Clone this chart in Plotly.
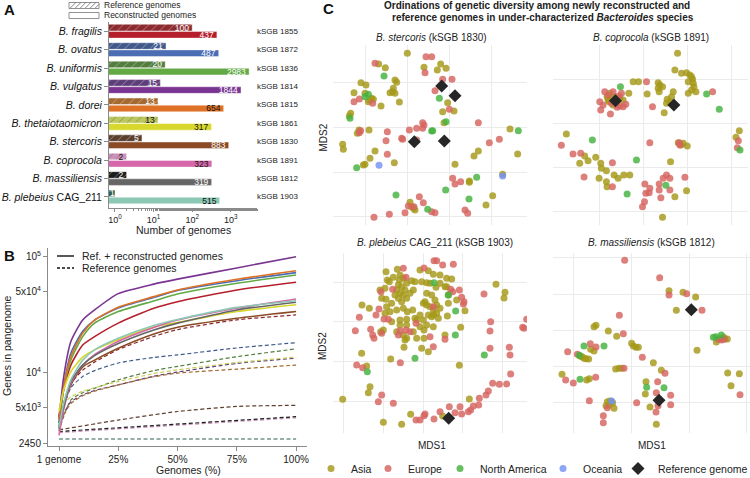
import plotly.graph_objects as go

W, H = 750, 478
FONT = "Liberation Sans, Arial, sans-serif"

def px(x):
    return x / W

def py(y):
    return 1 - y / H

def dom_x(a, b):
    return [a / W, b / W]

def dom_y(top, bottom):
    return [1 - bottom / H, 1 - top / H]

# ---------------- Panel A data ----------------
species = ["<i>B. fragilis</i>", "<i>B. ovatus</i>", "<i>B. uniformis</i>", "<i>B. vulgatus</i>",
           "<i>B. dorei</i>", "<i>B. thetaiotaomicron</i>", "<i>B. stercoris</i>", "<i>B. coprocola</i>",
           "<i>B. massiliensis</i>", "<i>B. plebeius</i> CAG_211"]
ksgb = ["kSGB 1855", "kSGB 1872", "kSGB 1836", "kSGB 1814", "kSGB 1815",
        "kSGB 1861", "kSGB 1830", "kSGB 1891", "kSGB 1812", "kSGB 1903"]
ref_counts = [100, 21, 20, 15, 13, 13, 5, 2, 2, 1]
recon_counts = [437, 487, 2983, 1844, 654, 317, 883, 323, 319, 515]

recon_colors = ["#B51F2B", "#4A6DB3", "#63AA45", "#7A3592", "#DE7125",
                "#D8D82C", "#8A4A24", "#D567AA", "#666666", "#8DC8B4"]
ref_colors = ["#8C2A2E", "#41598A", "#537D3F", "#5E3E79", "#A3692F",
              "#BBC65E", "#5C3F2F", "#CB93BA", "#1C1C1C", "#2F6152"]
ref_text_colors = ["white", "white", "white", "white", "white", "#111", "white", "#111", "white", "white"]
recon_text_colors = ["white", "white", "white", "white", "#111", "#111", "white", "#111", "white", "#111"]

# ---------------- Panel B data ----------------
pct = [0, 2, 5, 10, 15, 25, 40, 50, 75, 100]
total_genes = {
    "fragilis":     [4170, 7100, 11600, 17300, 20400, 26700, 35900, 40900, 51600, 60100],
    "ovatus":       [3700, 7700, 14700, 22700, 28400, 36000, 44500, 51000, 62000, 72800],
    "uniformis":    [3300, 7200, 12800, 20400, 26700, 33600, 41500, 47700, 59000, 69500],
    "vulgatus":     [4000, 9240, 18500, 28400, 34700, 48000, 58000, 64000, 80000, 100000],
    "dorei":        [3900, 7570, 13700, 21900, 28400, 36600, 45200, 51600, 63800, 75700],
    "theta":        [4620, 7100, 10200, 13600, 15700, 19200, 24800, 27000, 33600, 38500],
    "stercoris":    [3420, 5100, 7800, 11200, 12800, 16200, 21500, 24600, 29400, 33600],
    "coprocola":    [2870, 4800, 8100, 11600, 14300, 18600, 24500, 28400, 35900, 43100],
    "massiliensis": [3660, 5100, 8400, 11600, 14000, 17800, 23300, 26700, 34700, 40500],
    "plebeius":     [3420, 5450, 8640, 12800, 15700, 19800, 25500, 28700, 36500, 41700],
}
ref_pct = {
    "fragilis": pct, "ovatus": pct, "uniformis": pct, "vulgatus": pct, "dorei": pct, "theta": pct,
    "stercoris": [0, 25, 50, 75, 100], "coprocola": [0, 100], "massiliensis": [0, 100], "plebeius": [0, 100],
}
ref_genes = {
    "fragilis":     [3680, 5500, 8000, 10500, 12300, 15800, 20500, 23500, 28500, 31400],
    "ovatus":       [3150, 5000, 7400, 9250, 10400, 12100, 13500, 14200, 16300, 18100],
    "uniformis":    [3100, 4200, 5800, 6700, 7300, 8650, 10400, 11300, 13700, 16000],
    "vulgatus":     [3300, 4400, 5600, 6400, 7000, 7830, 9300, 10100, 12000, 13300],
    "dorei":        [3400, 4300, 5400, 6300, 6900, 7830, 9200, 9880, 10700, 11600],
    "theta":        [4780, 5400, 6170, 6900, 7400, 8360, 9800, 10550, 12200, 13600],
    "stercoris":    [3200, 3890, 4610, 5100, 5210],
    "coprocola":    [3030, 4070],
    "massiliensis": [3100, 4160],
    "plebeius":     [2670, 2670],
}
curve_keys = ["fragilis", "ovatus", "uniformis", "vulgatus", "dorei", "theta",
              "stercoris", "coprocola", "massiliensis", "plebeius"]

# ---------------- Panel C data (MDS1, MDS2 in ordination units) ----------------
st_asia = [(322,10),(372,52),(422,42),(438,55),(412,60),(236,42),(256,53),(285,90),(290,97),(280,115),
           (278,125),(285,130),(270,128),(298,156),(183,98),(198,105),(162,128),(195,130),(215,145),(220,148),
           (210,150),(205,155),(243,168),(152,190),(148,198),(177,240),(172,250),(207,240),(128,283),(130,298),
           (225,303),(210,325),(195,343),(190,345),(283,338),(428,185),(432,218),(443,158),(462,183),(630,237),
           (535,303),(522,318),(653,312),(465,343),(508,393),(508,397),(608,373),(578,437),(558,465),(330,457),
           (335,470),(340,475),(345,480)]
st_europe = [(378,20),(395,20),(375,68),(428,88),(456,88),(405,122),(448,178),(225,40),(162,155),(178,147),
             (218,160),(350,235),(328,240),(368,218),(368,235),(372,225),(262,245),(258,272),(305,265),(308,268),
             (262,313),(182,242),(178,248),(350,270),(535,218),(568,278),(598,268),(458,385),(465,402),(482,395),
             (358,440),(370,458),(325,468),(342,470),(395,485),(405,488),(315,488),(268,493),(222,502),(495,480),
             (503,490)]
st_namerica = [(252,78),(205,133),(195,140),(150,205),(418,145),(438,215),(398,242),(395,243),(655,242),
               (170,353),(437,420),(530,382),(507,447),(288,435),(383,478)]
st_oceania = [(237,346),(608,378)]
st_reference = [(425,108),(465,137),(343,275),(433,273)]

co_asia = [(473,10),(465,60),(485,70),(500,68),(510,75),(515,80),(518,88),(505,95),(520,100),(522,110),
           (515,120),(505,130),(528,125),(340,95),(356,95),(415,98),(420,105),(415,115),(418,125),(428,110),
           (382,132),(460,125),(455,140),(442,148),(450,155),(440,160),(433,188),(327,130),(270,130),(265,150),
           (285,140),(290,160),(295,150),(310,150),(262,140),(275,145),(300,145),(280,165),(268,155),
           (140,252),(180,340),(195,318),(205,332),(228,322),(243,340),(245,355),(260,362),(238,385),(283,375),
           (295,385),(312,375),(330,375),(260,395),(262,410),(475,278),(483,285),(490,280),(502,288),(452,335),
           (465,440),(500,422),(428,502),(658,242),(648,262)]
co_europe = [(380,95),(578,125),(240,155),(243,180),(272,192),(318,163),(300,168),(280,125),(265,135),(275,160),
             (298,138),(255,125),(305,130),(310,170),(250,165),(292,172),(398,170),(390,278),(125,286),(160,312),
             (183,310),(278,338),(193,381),(278,410),(478,278),(480,285),(375,402),(390,415),(378,430),(388,428),
             (418,402),(418,420),(430,385),(440,375),(450,385),(423,443),(450,420),(374,455),(368,470),(495,382),
             (655,272),(652,293)]
co_namerica = [(302,110),(560,132),(598,178),(218,270),(350,330),(322,432),(438,406),(660,300)]
co_oceania = []
co_reference = [(287,152),(462,165)]

pl_asia = [(258,95),(292,88),(262,120),(268,125),(255,145),(280,112),(300,105),(310,115),(320,130),(335,122),
           (345,125),(295,135),(305,140),(290,150),(300,160),(310,165),(285,165),(295,175),(305,185),(320,175),
           (330,160),(340,150),(275,190),(260,200),(245,175),(258,178),(270,215),(290,210),(310,205),(300,240),
           (320,238),(345,235),(255,220),(242,275),(250,270),(275,245),(300,255),(320,255),(290,275),(310,285),
           (320,295),(315,300),(340,275),(312,322),(350,295),(372,295),(365,325),(385,335),(400,260),(380,255),
           (360,90),(385,92),(400,103),(420,105),(440,115),(455,117),(365,125),(380,128),(390,130),(420,130),
           (435,140),(408,142),(380,160),(395,165),(375,185),(380,195),(390,200),(400,210),(410,220),(395,230),
           (385,225),(370,190),(360,225),(350,240),(370,240),(400,225),(410,195),(420,205),(405,180),(445,165),
           (445,190),(470,180),(495,212),(442,228),(482,262),(435,285),(415,235),(360,260),(372,270),(186,195),
           (208,205),(185,340),(200,378),(205,458),(210,440),(128,478),(272,357),(250,547),(305,553),(332,523),
           (428,528),(478,376),(508,477),(588,133),(615,157),(612,174),(440,140),(298,120),(240,150),(315,150),
           (338,210),(322,215)]
pl_europe = [(310,85),(402,62),(410,62),(428,75),(460,73),(372,84),(318,112),(243,155),(278,148),(237,207),
             (178,232),(252,237),(265,238),(228,225),(212,268),(218,285),(222,295),(166,272),(300,272),(295,285),
             (245,280),(348,250),(330,275),(318,270),(170,375),(188,383),(245,465),(235,485),(280,490),(301,368),
             (390,290),(400,320),(435,298),(458,155),(452,148),(478,150),(485,172),(492,185),(490,192),(400,200),
             (552,162),(572,245),(570,273),(570,325),(628,322),(630,345),(632,402),(680,238),(668,262),(672,265),
             (578,430),(598,433),(620,432),(565,453),(558,465),(538,475),(536,495),(520,498),(512,510),(505,515),
             (485,522),(480,500),(465,518),(448,500),(420,515),(402,537),(375,522),(372,527),(360,540),(348,540)]
pl_namerica = [(402,128),(445,165),(467,213),(466,285),(345,355),(202,395),(553,345)]
pl_oceania = []
pl_reference = [(446,535)]

ma_asia = [(447,152),(489,157),(527,171),(469,211),(222,260),(228,256),(265,273),(290,289),(335,310),(340,318),
           (348,322),(355,322),(531,331),(400,368),(424,391),(287,387),(297,385),(305,385),(212,328),(222,333),
           (186,350),(192,355),(198,356),(206,357),(180,348),(126,403),(200,420),(208,416),(378,425),(376,462),
           (390,501),(409,553),(262,485),(270,483),(278,488),(268,495),(282,505),(258,497),(623,399),(658,401),
           (633,437),(589,306),(600,297),(615,297),(622,297),(611,292)]
ma_europe = [(314,61),(419,113),(447,165),(500,161),(546,211),(298,226),(310,281),(211,311),(228,321),(143,335),
             (172,343),(367,352),(312,385),(435,400),(413,425),(227,412),(137,420),(160,429),(208,482),(350,488),
             (409,458),(452,466),(452,494),(408,516),(414,497),(250,527),(250,548),(262,503),(660,464),(612,297),
             (605,300),(595,298)]
ma_namerica = [(192,318),(252,318),(178,346),(180,418),(380,442),(432,443),(580,292),(604,285),(588,290)]
ma_oceania = [(275,483)]
ma_reference = [(514,209),(417,481)]

region_names = ["Asia", "Europe", "North America", "Oceania"]
region_colors = ["rgb(165,152,25)", "rgb(214,100,95)", "rgb(68,178,62)", "rgb(115,145,245)"]
legend_ids = ["legend", "legend2", "legend3", "legend4", "legend5"]

fig = go.Figure()

# ---------------- Panel A traces ----------------
fig.add_trace(go.Bar(
    y=species, x=ref_counts, orientation="h", xaxis="x", yaxis="y",
    marker=dict(color=ref_colors, line=dict(width=0.6, color="rgba(255,255,255,0.7)"),
                pattern=dict(shape="/", fgcolor="rgba(0,0,0,0.8)", fillmode="overlay",
                             size=6, solidity=0.12)),
    text=[str(v) for v in ref_counts], textposition="inside", insidetextanchor="end", textangle=0,
    textfont=dict(size=8.5, color=ref_text_colors, family=FONT), constraintext="none",
    showlegend=False, hoverinfo="skip", name="Reference genomes"))
fig.add_trace(go.Bar(
    y=species, x=recon_counts, orientation="h", xaxis="x", yaxis="y",
    marker=dict(color=recon_colors, line=dict(width=0.6, color="rgba(255,255,255,0.7)")),
    text=[str(v) for v in recon_counts], textposition="inside", insidetextanchor="end", textangle=0,
    textfont=dict(size=8.5, color=recon_text_colors, family=FONT), constraintext="none",
    showlegend=False, hoverinfo="skip", name="Reconstructed genomes"))

# ---------------- Panel B traces ----------------
for i, k in enumerate(curve_keys):
    fig.add_trace(go.Scatter(x=ref_pct[k], y=ref_genes[k], mode="lines", xaxis="x2", yaxis="y2",
                             line=dict(color=ref_colors[i] if k != "theta" else "#C9CF5A", width=1.2,
                                       dash="4px,2.5px", shape="spline", smoothing=0.6),
                             showlegend=False, hoverinfo="skip"))
for i, k in enumerate(curve_keys):
    fig.add_trace(go.Scatter(x=pct, y=total_genes[k], mode="lines", xaxis="x2", yaxis="y2",
                             line=dict(color=recon_colors[i], width=1.6, shape="spline", smoothing=0.6),
                             showlegend=False, hoverinfo="skip"))

# ---------------- Panel C traces ----------------
panels = [
    dict(xa="x3", ya="y3", data=[st_asia, st_europe, st_namerica, st_oceania], ref=st_reference),
    dict(xa="x4", ya="y4", data=[co_asia, co_europe, co_namerica, co_oceania], ref=co_reference),
    dict(xa="x5", ya="y5", data=[pl_asia, pl_europe, pl_namerica, pl_oceania], ref=pl_reference),
    dict(xa="x6", ya="y6", data=[ma_asia, ma_europe, ma_namerica, ma_oceania], ref=ma_reference),
]
for pi, p in enumerate(panels):
    for ri, pts in enumerate(p["data"]):
        fig.add_trace(go.Scatter(
            x=[a for a, b in pts], y=[b for a, b in pts], mode="markers", xaxis=p["xa"], yaxis=p["ya"],
            marker=dict(color=region_colors[ri], size=7, opacity=0.82, line=dict(width=0)),
            name=region_names[ri], legendgroup=region_names[ri], legend=legend_ids[ri],
            showlegend=(pi == 0), hoverinfo="skip"))
    fig.add_trace(go.Scatter(
        x=[a for a, b in p["ref"]], y=[b for a, b in p["ref"]], mode="markers", xaxis=p["xa"], yaxis=p["ya"],
        marker=dict(color="#262626", size=10, symbol="diamond", line=dict(width=0)),
        name="Reference genome", legendgroup="ref", legend=legend_ids[4],
        showlegend=(pi == 0), hoverinfo="skip"))

# ---------------- Layout ----------------
axis_line = "#8a8a8a"
layout = dict(
    template="none",
    width=W, height=H, margin=dict(l=0, r=0, t=0, b=0, pad=0, autoexpand=False), autosize=False,
    paper_bgcolor="white", plot_bgcolor="white",
    font=dict(family=FONT, size=10, color="#222"),
    barmode="group", bargap=0.22, bargroupgap=0.08,
    showlegend=True,
    xaxis=dict(domain=dom_x(109, 257), anchor="y", type="log", range=[-0.155, 3.68], automargin=False,
               tickvals=[1, 10, 100, 1000],
               ticktext=["10<sup>0</sup>", "10<sup>1</sup>", "10<sup>2</sup>", "10<sup>3</sup>"],
               ticks="outside", ticklen=3, tickcolor=axis_line, showline=True, linecolor=axis_line,
               linewidth=1, showgrid=False, zeroline=False, tickfont=dict(size=9),
               minor=dict(ticks="outside", ticklen=2, tickcolor=axis_line, showgrid=False)),
    yaxis=dict(domain=dom_y(22, 208), anchor="x", type="category", categoryorder="array", automargin=False,
               categoryarray=species, range=[9.6, -0.5], ticks="outside", ticklen=4, tickcolor=axis_line,
               showline=True, linecolor=axis_line, linewidth=1, showgrid=False, zeroline=False,
               tickfont=dict(size=10.5, color="#111")),
    xaxis2=dict(domain=dom_x(48, 307), anchor="y2", range=[-4.64, 104.6], automargin=False,
                tickvals=[0, 25, 50, 75, 100], ticktext=["1 genome", "25%", "50%", "75%", "100%"],
                ticks="outside", ticklen=4, tickcolor=axis_line, showline=True, linecolor=axis_line,
                linewidth=1, showgrid=False, zeroline=False, tickfont=dict(size=10)),
    yaxis2=dict(domain=dom_y(248, 446), anchor="x2", type="log", range=[3.366, 5.075], automargin=False,
                tickvals=[2450, 5000, 10000, 50000, 100000],
                ticktext=["2450", "5x10<sup>3</sup>", "10<sup>4</sup>", "5x10<sup>4</sup>", "10<sup>5</sup>"],
                ticks="outside", ticklen=4, tickcolor=axis_line, showline=True, linecolor=axis_line,
                linewidth=1, showgrid=False, zeroline=False, tickfont=dict(size=10)),
)

# one legend per entry, placed where each entry sits in the reference
legend_marker_x = [338, 395, 467, 570, 645]
for lid, mx in zip(legend_ids, legend_marker_x):
    layout[lid] = dict(orientation="h", x=px(mx - 27), y=py(468.5), xanchor="left", yanchor="middle",
                       font=dict(size=10.5, family=FONT, color="#222"), bgcolor="rgba(0,0,0,0)",
                       itemsizing="trace", itemwidth=30, borderwidth=0)

c_axes = [
    ("xaxis3", "yaxis3", "y3", "x3", (333, 527), (45, 225), [99, 681], [525, -15], [195, 322, 448, 573], [98, 233, 367, 500]),
    ("xaxis4", "yaxis4", "y4", "x4", (553, 748), (45, 225), [100, 684], [525, -15], [238, 370, 502, 635], [88, 220, 352, 485]),
    ("xaxis5", "yaxis5", "y5", "x5", (333, 527), (253, 433), [99, 681], [579, 39], [130, 250, 370, 488, 607], [127, 245, 365, 483]),
    ("xaxis6", "yaxis6", "y6", "x6", (553, 750), (253, 433), [99, 690], [579, 39], [160, 335, 507, 680], [52, 162, 270, 378, 487]),
]
for xk, yk, yanc, xanc, xd, yd, xr, yr, xg, yg in c_axes:
    layout[xk] = dict(domain=dom_x(*xd), anchor=yanc, range=xr, tickmode="array", tickvals=xg, automargin=False,
                      showticklabels=False, ticks="", showgrid=True, gridcolor="#EBEBEB", gridwidth=1,
                      zeroline=False, showline=False)
    layout[yk] = dict(domain=dom_y(*yd), anchor=xanc, range=yr, tickmode="array", tickvals=yg, automargin=False,
                      showticklabels=False, ticks="", showgrid=True, gridcolor="#EBEBEB", gridwidth=1,
                      zeroline=False, showline=False)

fig.update_layout(**layout)

# ---------------- Annotations (text) ----------------
ann = []
def add_text(text, x, y, size=10, xanchor="center", yanchor="middle", angle=0, color="#222"):
    ann.append(dict(text=text, x=px(x), y=py(y), xref="paper", yref="paper", showarrow=False,
                    xanchor=xanchor, yanchor=yanchor, textangle=angle,
                    font=dict(size=size, family=FONT, color=color)))

add_text("<b>A</b>", 9, 9, size=15, color="#111")
add_text("<b>B</b>", 9, 256, size=15, color="#111")
add_text("<b>C</b>", 328, 8, size=15, color="#111")

for i, k in enumerate(ksgb):
    add_text(k, 255, 31.2 + i * 18.42, size=8, xanchor="left")
add_text("Number of genomes", 183.5, 230.5, size=10.5)
add_text("Reference genomes", 102, 5.5, size=8.5, xanchor="left")
add_text("Reconstructed genomes", 102, 15.5, size=8.5, xanchor="left")

add_text("Ref. + reconstructed genomes", 80, 256, size=10.5, xanchor="left")
add_text("Reference genomes", 80, 268, size=10.5, xanchor="left")
add_text("Genes in pangenome", 7, 346, size=10.5, angle=-90)
add_text("Genomes (%)", 188, 470, size=10.5)

add_text("<b>Ordinations of genetic diversity among newly reconstructed and</b>", 537, 6, size=10)
add_text("<b>reference genomes in under-characterized <i>Bacteroides</i> species</b>", 543, 17.5, size=10)
add_text("<i>B. stercoris</i> (kSGB 1830)", 431, 37.5, size=10)
add_text("<i>B. coprocola</i> (kSGB 1891)", 651, 37.5, size=10)
add_text("<i>B. plebeius</i> CAG_211 (kSGB 1903)", 435, 242, size=10)
add_text("<i>B. massiliensis</i> (kSGB 1812)", 651, 242.5, size=10)
add_text("MDS2", 322.5, 138, size=10, angle=-90)
add_text("MDS2", 322.5, 346.5, size=10, angle=-90)
add_text("MDS1", 432, 445, size=10)
add_text("MDS1", 652, 445, size=10)

fig.update_layout(annotations=ann)

# ---------------- Shapes (legend glyphs for A and B) ----------------
shapes = []
def pline(x0, y0, x1, y1, color="#222", width=1, dash="solid"):
    shapes.append(dict(type="line", xref="paper", yref="paper", x0=px(x0), y0=py(y0), x1=px(x1), y1=py(y1),
                       line=dict(color=color, width=width, dash=dash)))

for (top, bot) in [(2.5, 8.5), (12.5, 18.5)]:
    shapes.append(dict(type="rect", xref="paper", yref="paper", x0=px(69), x1=px(99), y0=py(bot), y1=py(top),
                       line=dict(color="#777", width=0.8), fillcolor="white"))
for xs in range(70, 99, 5):
    x_end = min(xs + 6, 99)
    pline(xs, 8.3, x_end, 8.3 - (x_end - xs), color="#555", width=0.7)

pline(57, 256, 74, 256, color="#111", width=1.4)
pline(57, 268, 74, 268, color="#111", width=1.4, dash="3px,2px")

fig.update_layout(shapes=shapes)

fig.write_html("out.html", config={"displayModeBar": False},
               post_script="document.body.style.margin='0';document.body.style.overflow='hidden';")
